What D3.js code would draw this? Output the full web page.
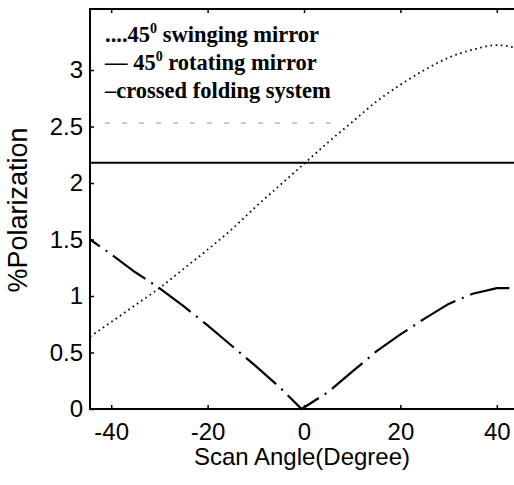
<!DOCTYPE html>
<html lang="en">
<head>
<meta charset="UTF-8">
<title>Polarization vs Scan Angle</title>
<script src="https://cdn.jsdelivr.net/npm/d3@7"></script>
<style>
  body { margin: 0; background: #fff; }
  .tick-label { font-family: "Liberation Sans", Arial, sans-serif; font-size: 24px; fill: #000; }
  .legend { font-family: "Liberation Serif", "Times New Roman", serif; font-size: 22.5px; font-weight: bold; fill: #000; }
</style>
</head>
<body>
<svg width="514" height="485"></svg>
<script>
// data
var angles = [-44.4, -40, -35, -30, -25, -20, -15, -10, -5, 0, 5, 10, 15, 20, 25, 30, 35, 40, 44.6];
var swinging = [0.64, 0.77, 0.92, 1.07, 1.24, 1.41, 1.59, 1.79, 1.98, 2.17, 2.36, 2.54, 2.72, 2.87, 3.00, 3.11, 3.18, 3.22, 3.19];
var rotating = [2.18, 2.18, 2.18, 2.18, 2.18, 2.18, 2.18, 2.18, 2.18, 2.18, 2.18, 2.18, 2.18, 2.18, 2.18, 2.18, 2.18, 2.18, 2.18];
var foldAngles = [-44.4, -40, -35, -30, -25, -20, -15, -10, -5, -0.5, 5, 10, 15, 20, 25, 30, 35, 40, 44.6];
var folding = [1.50, 1.37, 1.21, 1.07, 0.91, 0.74, 0.56, 0.38, 0.19, 0.0, 0.15, 0.33, 0.51, 0.66, 0.80, 0.93, 1.02, 1.07, 1.07];
var xTicks = [-40, -20, 0, 20, 40];
var yTicks = [0, 0.5, 1, 1.5, 2, 2.5, 3];
var legendLabels = ["....45", "\u2014 45", "\u2013crossed folding system"];
var legendRest = [" swinging mirror", " rotating mirror", ""];

var svg = d3.select("svg");
var box = {left: 90, right: 519, top: 9, bottom: 409};

var x = d3.scaleLinear().domain([-44.4, 44.6]).range([box.left, box.right]);
var y = d3.scaleLinear().domain([0, 3.54]).range([box.bottom, box.top]);

// frame
svg.append("rect")
  .attr("x", box.left).attr("y", box.top)
  .attr("width", box.right - box.left).attr("height", box.bottom - box.top)
  .attr("fill", "none").attr("stroke", "#000").attr("stroke-width", 2);

// axes, ticks pointing inwards like matlab
var xAxis = d3.axisBottom(x).tickValues(xTicks).tickSize(-4).tickPadding(14).tickFormat(function(d){ return String(d); });
svg.append("g").attr("transform", "translate(0," + box.bottom + ")").call(xAxis);
var xTop = d3.axisTop(x).tickValues(xTicks).tickSize(-4).tickFormat("");
svg.append("g").attr("transform", "translate(0," + box.top + ")").call(xTop);

var yAxis = d3.axisLeft(y).tickValues(yTicks).tickSize(-4).tickPadding(7).tickFormat(function(d){ return String(d); });
svg.append("g").attr("transform", "translate(" + box.left + ",0)").call(yAxis);

svg.selectAll(".domain").remove();
svg.selectAll(".tick line").attr("stroke", "#000").attr("stroke-width", 1.5);
svg.selectAll(".tick text").attr("class", "tick-label").attr("font-size", null).attr("font-family", null);

// axis titles
svg.append("text")
  .attr("class", "tick-label")
  .attr("x", 302).attr("y", 465)
  .attr("text-anchor", "middle")
  .attr("font-size", "24.5px")
  .text("Scan Angle(Degree)");

svg.append("text")
  .attr("class", "tick-label")
  .style("font-size", "27px")
  .attr("transform", "translate(27,210) rotate(-90)")
  .attr("text-anchor", "middle")
  .text("%Polarization");

// curves
var line = d3.line().x(function(d){ return x(d[0]); }).y(function(d){ return y(d[1]); }).curve(d3.curveMonotoneX);

svg.append("path")
  .datum(d3.zip(angles, swinging))
  .attr("d", line)
  .attr("fill", "none").attr("stroke", "#000").attr("stroke-width", 1.8)
  .attr("stroke-dasharray", "1.6,3.6");

svg.append("path")
  .datum(d3.zip(angles, rotating))
  .attr("d", line)
  .attr("fill", "none").attr("stroke", "#000").attr("stroke-width", 2);

svg.append("path")
  .datum(d3.zip(foldAngles, folding))
  .attr("d", d3.line().x(function(d){ return x(d[0]); }).y(function(d){ return y(d[1]); }))
  .attr("fill", "none").attr("stroke", "#000").attr("stroke-width", 2.2)
  .attr("stroke-dasharray", "40,7,2,7")
  .attr("stroke-dashoffset", 28);

// legend
var legendY = [42, 70, 98];
legendLabels.forEach(function(lab, i){
  var t = svg.append("text").attr("class", "legend").attr("x", 105).attr("y", legendY[i]);
  t.append("tspan").text(lab);
  if (i < 2) {
    t.append("tspan").attr("dy", -9).attr("font-size", "14px").text("0");
    t.append("tspan").attr("dy", 9).text(legendRest[i]);
  }
});

// faint leftover legend row
svg.append("line")
  .attr("x1", 105).attr("x2", 338).attr("y1", 123).attr("y2", 123)
  .attr("stroke", "#bbb").attr("stroke-width", 1.5)
  .attr("stroke-dasharray", "5,12");
</script>
</body>
</html>
